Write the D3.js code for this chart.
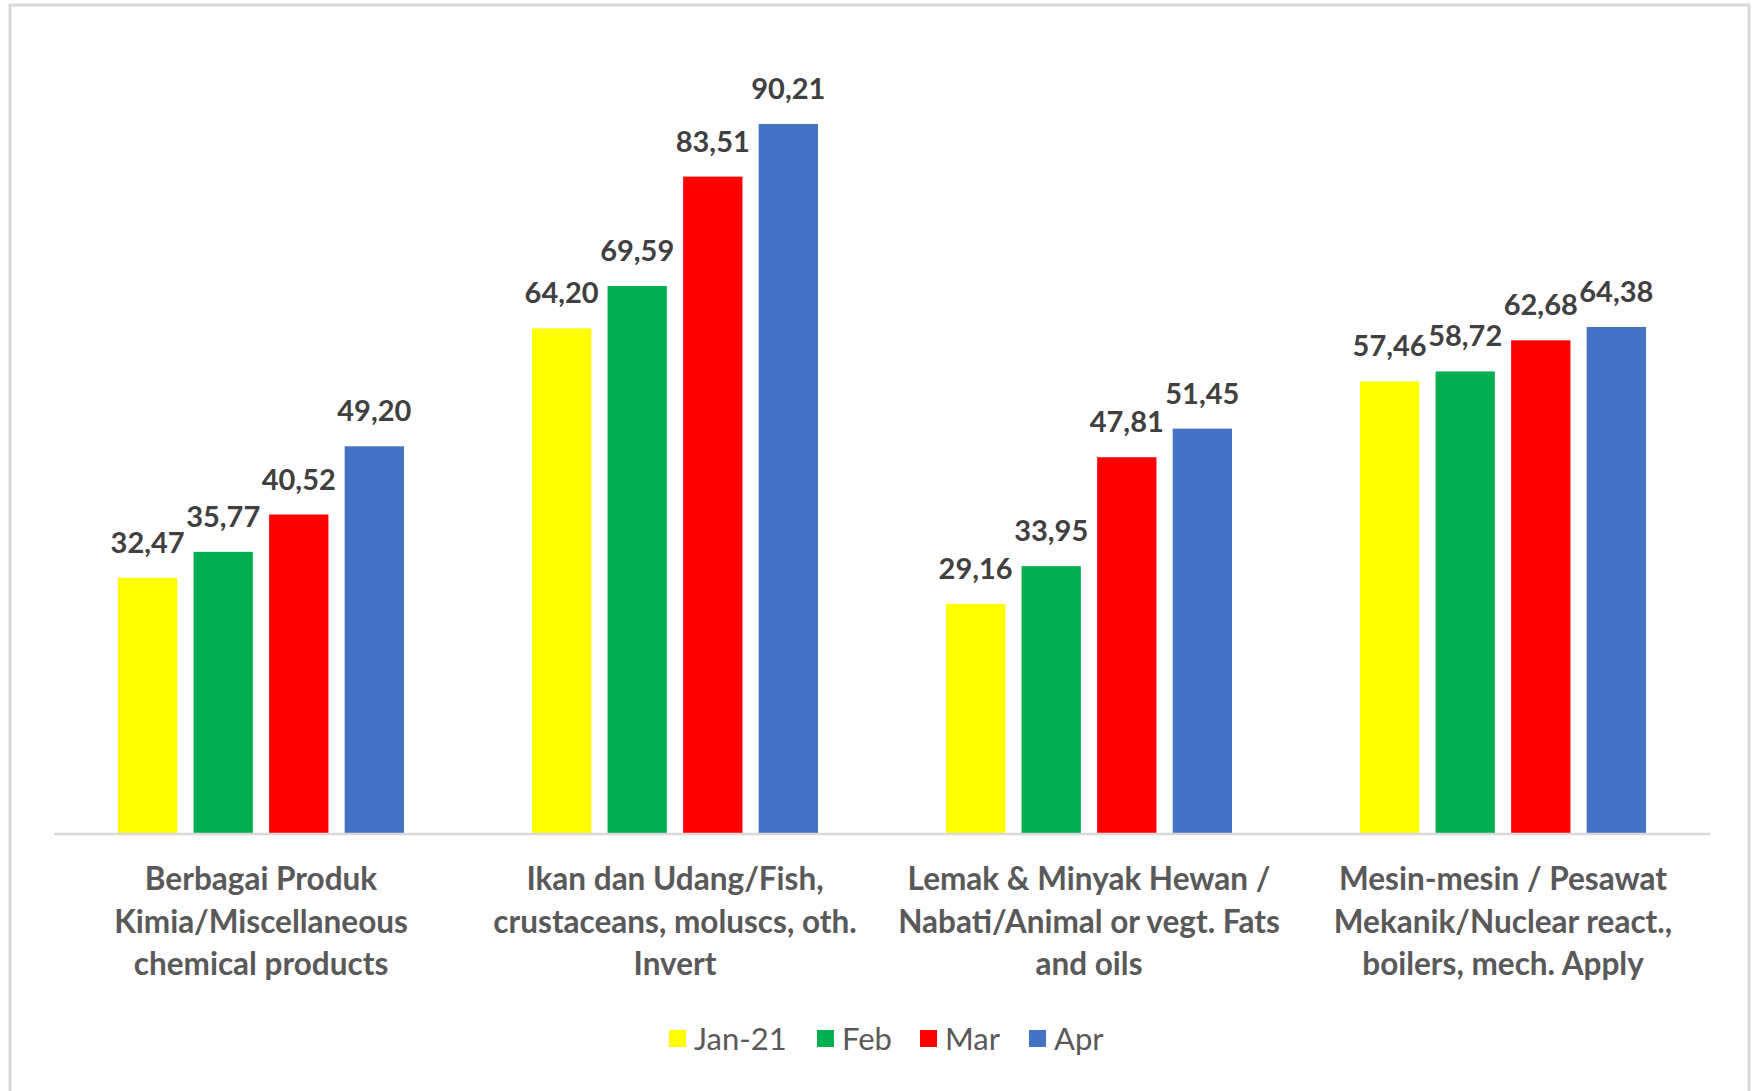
<!DOCTYPE html>
<html>
<head>
<meta charset="utf-8">
<script src="https://cdn.jsdelivr.net/npm/d3@7"></script>
<style>
  body { margin: 0; background: #fff; }
  svg { display: block; font-family: Lato, "Open Sans", sans-serif; }
</style>
</head>
<body>
<div id="chart"></div>
<script>
// data
var categories = [
  ["Berbagai Produk", "Kimia/Miscellaneous", "chemical products"],
  ["Ikan dan Udang/Fish,", "crustaceans, moluscs, oth.", "Invert"],
  ["Lemak & Minyak Hewan /", "Nabati/Animal or vegt. Fats", "and oils"],
  ["Mesin-mesin / Pesawat", "Mekanik/Nuclear react.,", "boilers, mech. Apply"]
];
var seriesNames = ["Jan-21", "Feb", "Mar", "Apr"];
var jan21 = [32.47, 64.20, 29.16, 57.46];
var feb   = [35.77, 69.59, 33.95, 58.72];
var mar   = [40.52, 83.51, 47.81, 62.68];
var apr   = [49.20, 90.21, 51.45, 64.38];
var seriesColors = ["#ffff00", "#00b050", "#ff0000", "#4472c4"];

var series = [jan21, feb, mar, apr];

// size
var W = 1754, H = 1091;
var plot = {left: 54, right: 1710, top: 47, bottom: 833};
var fontFam = "Lato, 'Open Sans', sans-serif";

var svg = d3.select("#chart").append("svg")
    .attr("width", W)
    .attr("height", H);

svg.append("rect")
    .attr("width", W).attr("height", H)
    .attr("fill", "#fff");

// chart border
svg.append("rect")
    .attr("x", 10).attr("y", 5)
    .attr("width", 1739).attr("height", 1100)
    .attr("fill", "none")
    .attr("stroke", "#d9d9d9")
    .attr("stroke-width", 3);

var catIdx = d3.range(categories.length);

var x0 = d3.scaleBand()
    .domain(catIdx)
    .range([plot.left, plot.right]);

var gapOuter = 64;
var x1 = d3.scaleBand()
    .domain(d3.range(seriesNames.length))
    .range([gapOuter, x0.bandwidth() - gapOuter])
    .paddingInner(0.215);

var y = d3.scaleLinear()
    .domain([0, 100])
    .range([plot.bottom, plot.top]);

var locale = d3.formatLocale({decimal: ",", thousands: ".", grouping: [3], currency: ["", ""]});
var fmt = locale.format(".2f");

var groups = svg.append("g")
  .selectAll("g")
  .data(catIdx)
  .enter().append("g")
    .attr("transform", function(d) { return "translate(" + x0(d) + ",0)"; });

var cells = groups.selectAll("g.cell")
  .data(function(c) { return series.map(function(s, i) { return {s: i, v: s[c]}; }); })
  .enter().append("g").attr("class", "cell");

cells.append("rect")
    .attr("x", function(d) { return x1(d.s); })
    .attr("y", function(d) { return y(d.v); })
    .attr("width", x1.bandwidth())
    .attr("height", function(d) { return y(0) - y(d.v); })
    .attr("fill", function(d) { return seriesColors[d.s]; });

cells.append("text")
    .attr("x", function(d) { return x1(d.s) + x1.bandwidth() / 2; })
    .attr("y", function(d) { return y(d.v) - 25; })
    .attr("text-anchor", "middle")
    .attr("font-family", fontFam)
    .attr("font-size", 29)
    .attr("font-weight", "bold")
    .attr("fill", "#404040")
    .text(function(d) { return fmt(d.v); });

// baseline
svg.append("line")
    .attr("x1", plot.left).attr("x2", plot.right)
    .attr("y1", y(0) + 1).attr("y2", y(0) + 1)
    .attr("stroke", "#d9d9d9")
    .attr("stroke-width", 2.5);

// category labels
var xAxis = svg.append("g")
    .attr("transform", "translate(0," + y(0) + ")")
    .call(d3.axisBottom(x0).tickSize(0).tickFormat(""));
xAxis.select(".domain").remove();

xAxis.selectAll(".tick").each(function(c) {
  var t = d3.select(this).append("text")
      .attr("text-anchor", "middle")
      .attr("font-family", fontFam)
      .attr("font-size", 31.5)
      .attr("font-weight", "bold")
      .attr("fill", "#595959");
  categories[c].forEach(function(line, i) {
    t.append("tspan")
        .attr("x", 0)
        .attr("y", 57 + i * 42.5)
        .text(line);
  });
});

// legend
var legendX = [669, 817, 920, 1029];
var legend = svg.append("g").attr("transform", "translate(0,1039)");
var items = legend.selectAll("g")
  .data(seriesNames)
  .enter().append("g")
    .attr("transform", function(d, i) { return "translate(" + legendX[i] + ",0)"; });
items.append("rect")
    .attr("x", 0).attr("y", -9)
    .attr("width", 17).attr("height", 17)
    .attr("fill", function(d, i) { return seriesColors[i]; });
items.append("text")
    .attr("x", 25).attr("y", 11)
    .attr("font-family", fontFam)
    .attr("font-size", 31)
    .attr("fill", "#595959")
    .text(function(d) { return d; });
</script>
</body>
</html>
